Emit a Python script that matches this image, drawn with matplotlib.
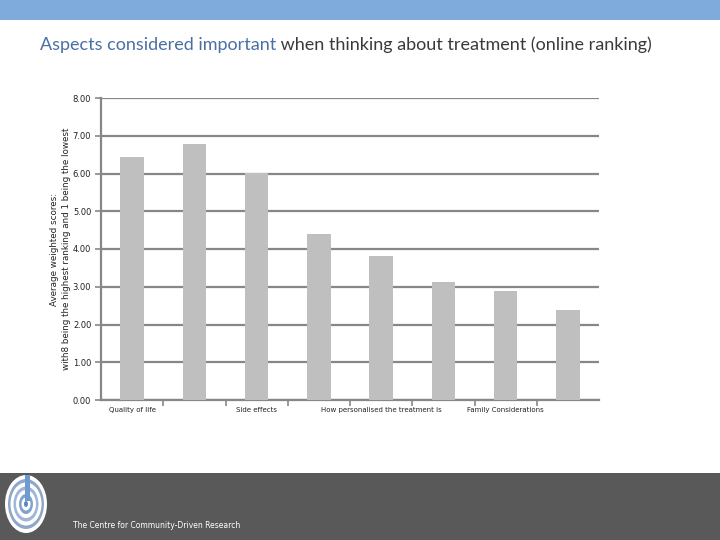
import matplotlib
matplotlib.use("Agg")
import matplotlib.pyplot as plt
from matplotlib.patches import Rectangle, Ellipse

# data
categories = ["Quality of life", "", "Side effects", "",
              "How personalised the treatment is", "", "Family Considerations", ""]
scores = [6.44, 6.78, 6.02, 4.41, 3.81, 3.12, 2.89, 2.39]
y_ticks = [0, 1, 2, 3, 4, 5, 6, 7, 8]
y_tick_labels = ["0.00", "1.00", "2.00", "3.00", "4.00", "5.00", "6.00", "7.00", "8.00"]

W, H = 720, 540
fig = plt.figure(figsize=(7.2, 5.4), dpi=100)

# background layer in pixel coords (header band, footer, logo)
bg = fig.add_axes([0, 0, 1, 1])
bg.set_xlim(0, W)
bg.set_ylim(H, 0)
bg.axis("off")
bg.add_patch(Rectangle((0, 0), W, 20, color="#7FABDC", lw=0))
bg.add_patch(Rectangle((0, 473), W, 67, color="#595959", lw=0))

# logo: concentric rings + stem
cx, cy = 26, 504
rings = [(42, 58, "white"), (36, 50, "#8FA8C8"), (31, 43, "white"),
         (25, 35, "#9FB6D6"), (20, 28, "white"), (14, 20, "#7FA3CF"),
         (9, 13, "white"), (4, 6, "#5F86BE")]
for w, h, c in rings:
    bg.add_patch(Ellipse((cx, cy), w, h, color=c, lw=0))
bg.add_patch(Rectangle((cx - 1, 475), 5, 26, color="#6E9AD2", lw=0))
bg.text(73, 526, "The Centre for Community-Driven Research", color="white",
        fontsize=5.5, family="DejaVu Sans", va="center", ha="left")

# title in two colours
t1 = bg.text(40, 45, "Aspects considered important", color="#4A6FA5",
             fontsize=13, family="Lato", va="center", ha="left")
bg.annotate(" when thinking about treatment (online ranking)", xy=(1, 0.5),
            xycoords=t1, va="center", ha="left", color="#3A3A3A",
            fontsize=13, family="Lato")

# main chart
ax = fig.add_axes([101 / W, 1 - 400 / H, 498 / W, 302 / H])
x = list(range(len(categories)))
ax.bar(x, scores, width=0.38, color="#BFBFBF", zorder=3)
ax.set_xlim(-0.5, len(categories) - 0.5)
ax.set_ylim(0, 8)
ax.set_yticks(y_ticks)
ax.set_yticklabels(y_tick_labels, fontsize=6, color="#222222")
ax.yaxis.grid(True, color="#878787", lw=1.6, zorder=1)
ax.tick_params(axis="y", length=4, width=1.2, color="#878787", pad=3)

# category labels under the bars, boundary ticks between categories
ax.set_xticks(x)
ax.set_xticklabels(categories, fontsize=5, color="#222222")
ax.tick_params(axis="x", length=0, pad=5)
ax.set_xticks([i + 0.5 for i in x[:-1]], minor=True)
ax.tick_params(axis="x", which="minor", length=4, width=1.2, color="#878787")

for s in ["top", "right"]:
    ax.spines[s].set_visible(False)
for s in ["left", "bottom"]:
    ax.spines[s].set_color("#878787")
    ax.spines[s].set_linewidth(1.6)

ax.set_ylabel("Average weighted scores:\nwith8 being the highest ranking and 1 being the lowest",
              fontsize=6.3, color="#222222", labelpad=1, linespacing=1.5)

fig.savefig("out.png", dpi=100)
